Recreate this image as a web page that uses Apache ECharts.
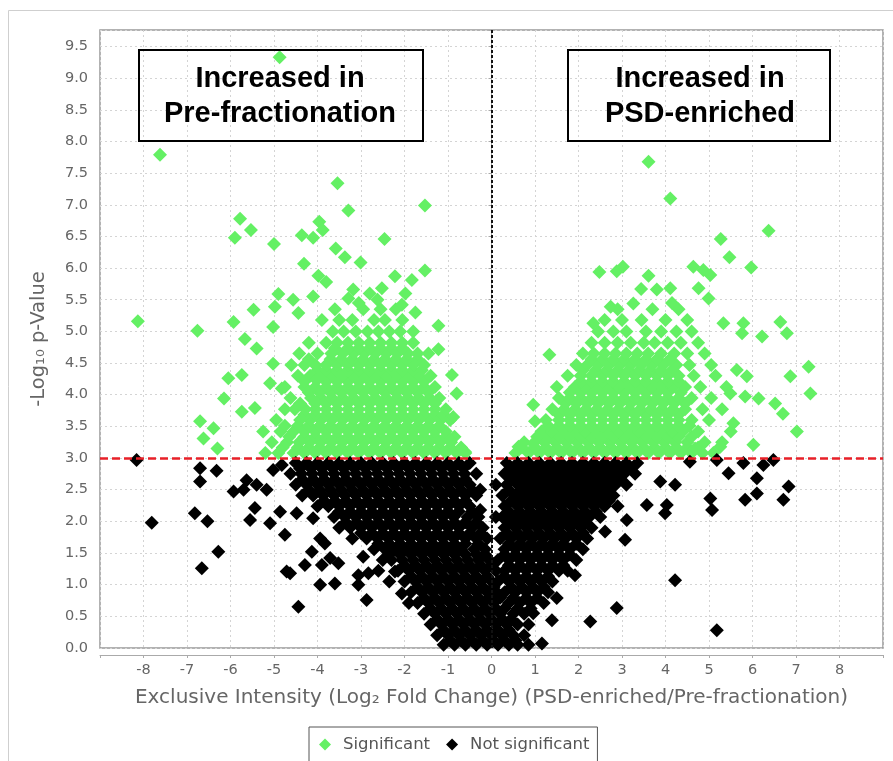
<!DOCTYPE html>
<html>
<head>
<meta charset="utf-8">
<script src="https://cdn.jsdelivr.net/npm/echarts@6/dist/echarts.min.js"></script>
<style>
html,body{margin:0;padding:0;background:#fff}
#chart{width:893px;height:761px}
</style>
</head>
<body>
<div id="chart"></div>
<script>
// x = log2 fold change, y = -log10 p
const sigLeftOutliers = [
  [-4.87,9.33],[-7.62,7.79],[-8.13,5.16],[-3.54,7.34],[-3.29,6.91],[-1.53,6.99],
  [-5.78,6.78],[-5.53,6.60],[-5.90,6.48],[-5.00,6.38],[-4.36,6.52],[-4.10,6.48],
  [-3.96,6.73],[-3.88,6.60],[-2.46,6.46],[-3.58,6.31],[-3.37,6.17],[-3.01,6.09],
  [-4.31,6.07],[-3.98,5.88],[-3.80,5.78],[-1.53,5.96],[-2.22,5.87],[-1.83,5.81],
  [-2.52,5.68],[-3.18,5.66],[-3.29,5.52],[-2.06,5.42],[-4.90,5.59],[-4.56,5.50],
  [-4.10,5.55],[-5.47,5.34],[-4.98,5.39],[-4.44,5.29],[-5.93,5.15],[-6.76,5.01],
  [-1.22,5.09],[-1.22,4.72],[-5.67,4.88],[-5.40,4.73],[-6.05,4.26],[-5.74,4.31],
  [-6.15,3.94],[-5.74,3.73],[-5.44,3.79],[-6.70,3.58],[-6.39,3.47],[-6.62,3.31],
  [-6.30,3.15],[-0.91,4.31],[-0.80,4.02],[-0.88,3.65],[-0.95,3.29],[-0.61,3.10],
  [-4.02,4.23],[-5.02,4.49],[-5.02,5.07],[-5.09,4.18],[-4.82,4.10],[-2.80,5.60],
  [-2.62,5.50],[-3.05,5.45],[-1.75,5.30],[-1.98,5.60]
];
const sigLeftRows = [
  [3.08,[-5.2,-4.9,-4.55,-4.3,-4.05,-3.8,-3.55,-3.3,-3.05,-2.8,-2.55,-2.3,-2.05,-1.8,-1.55,-1.3,-1.05,-0.8,-0.6]],
  [3.165,[-4.8,-4.45,-4.2,-3.95,-3.7,-3.45,-3.2,-2.95,-2.7,-2.45,-2.2,-1.95,-1.7,-1.45,-1.2,-0.95,-0.7]],
  [3.25,[-5.05,-4.7,-4.42,-4.18,-3.93,-3.68,-3.43,-3.18,-2.93,-2.68,-2.43,-2.18,-1.93,-1.68,-1.43,-1.18,-0.93]],
  [3.335,[-4.65,-4.3,-4.05,-3.8,-3.55,-3.3,-3.05,-2.8,-2.55,-2.3,-2.05,-1.8,-1.55,-1.3,-1.05,-0.85]],
  [3.42,[-5.25,-4.85,-4.55,-4.3,-4.05,-3.8,-3.55,-3.3,-3.05,-2.8,-2.55,-2.3,-2.05,-1.8,-1.55,-1.3,-1.05]],
  [3.51,[-4.75,-4.45,-4.2,-3.95,-3.7,-3.45,-3.2,-2.95,-2.7,-2.45,-2.2,-1.95,-1.7,-1.45,-1.2]],
  [3.60,[-4.95,-4.4,-4.17,-3.92,-3.67,-3.42,-3.17,-2.92,-2.67,-2.42,-2.17,-1.92,-1.67,-1.42,-1.17,-0.95]],
  [3.685,[-4.3,-4.05,-3.8,-3.55,-3.3,-3.05,-2.8,-2.55,-2.3,-2.05,-1.8,-1.55,-1.3,-1.1]],
  [3.77,[-4.75,-4.52,-4.28,-4.05,-3.8,-3.55,-3.3,-3.05,-2.8,-2.55,-2.3,-2.05,-1.8,-1.55,-1.3,-1.05]],
  [3.86,[-4.4,-4.05,-3.8,-3.55,-3.3,-3.05,-2.8,-2.55,-2.3,-2.05,-1.8,-1.55,-1.3]],
  [3.95,[-4.62,-4.15,-3.92,-3.67,-3.42,-3.17,-2.92,-2.67,-2.42,-2.17,-1.92,-1.67,-1.42,-1.2]],
  [4.035,[-4.2,-3.95,-3.7,-3.45,-3.2,-2.95,-2.7,-2.45,-2.2,-1.95,-1.7,-1.45]],
  [4.12,[-4.75,-4.3,-4.05,-3.8,-3.55,-3.3,-3.05,-2.8,-2.55,-2.3,-2.05,-1.8,-1.55,-1.3]],
  [4.21,[-4.3,-3.8,-3.55,-3.3,-3.05,-2.8,-2.55,-2.3,-2.05,-1.8,-1.55]],
  [4.30,[-4.45,-4.17,-3.92,-3.67,-3.42,-3.17,-2.92,-2.67,-2.42,-2.17,-1.92,-1.67,-1.4]],
  [4.385,[-4.0,-3.8,-3.55,-3.3,-3.05,-2.8,-2.55,-2.3,-2.05,-1.8,-1.6]],
  [4.47,[-4.6,-4.3,-4.05,-3.8,-3.55,-3.3,-3.05,-2.8,-2.55,-2.3,-2.05,-1.8,-1.55]],
  [4.56,[-4.2,-3.7,-3.45,-3.2,-2.95,-2.7,-2.45,-2.2,-1.95,-1.7]],
  [4.65,[-4.42,-4.0,-3.68,-3.42,-3.17,-2.92,-2.67,-2.42,-2.17,-1.92,-1.7,-1.45]],
  [4.735,[-3.6,-3.3,-3.05,-2.8,-2.55,-2.3,-2.05]],
  [4.82,[-4.2,-3.8,-3.55,-3.3,-3.05,-2.8,-2.55,-2.3,-2.05,-1.8]],
  [5.00,[-3.65,-3.4,-3.12,-2.85,-2.6,-2.35,-2.1,-1.8]],
  [5.18,[-3.9,-3.5,-3.2,-2.7,-2.45,-2.05]],
  [5.35,[-3.6,-2.95,-2.55,-2.2]]
];
const sigRightOutliers = [
  [3.61,7.68],[4.11,7.10],[6.37,6.59],[5.27,6.46],[5.47,6.17],[5.97,6.01],
  [2.48,5.94],[2.88,5.95],[3.02,6.02],[3.61,5.88],[4.64,6.02],[4.87,5.97],
  [5.03,5.89],[3.44,5.67],[3.80,5.66],[4.11,5.68],[4.76,5.68],[4.99,5.52],
  [2.74,5.39],[3.26,5.44],[5.33,5.13],[5.79,5.13],[5.76,4.97],[6.22,4.92],
  [6.64,5.15],[6.79,4.97],[2.34,5.13],[1.33,4.63],[7.29,4.44],[6.87,4.29],
  [7.33,4.02],[5.87,4.29],[5.83,3.97],[6.14,3.94],[6.52,3.86],[6.70,3.70],
  [7.02,3.42],[6.02,3.21],[0.62,3.18],[0.96,3.84],[1.00,3.58],[0.96,3.23],
  [4.68,3.15],[5.26,3.18],[5.56,3.55],[5.64,4.39],[5.49,4.02],[4.15,5.45]
];
const sigRightRows = [
  [3.08,[0.55,0.85,1.1,1.35,1.6,1.85,2.1,2.35,2.6,2.85,3.1,3.35,3.6,3.85,4.1,4.35,4.6,4.85,5.1]],
  [3.165,[0.7,1.0,1.25,1.5,1.75,2.0,2.25,2.5,2.75,3.0,3.25,3.5,3.75,4.0,4.25,4.5,4.75]],
  [3.25,[0.75,1.22,1.47,1.72,1.97,2.22,2.47,2.72,2.97,3.22,3.47,3.72,3.97,4.22,4.5,4.9,5.3]],
  [3.335,[1.05,1.3,1.55,1.8,2.05,2.3,2.55,2.8,3.05,3.3,3.55,3.8,4.05,4.3,4.6]],
  [3.42,[1.15,1.4,1.65,1.9,2.15,2.4,2.65,2.9,3.15,3.4,3.65,3.9,4.15,4.4,4.75,5.5]],
  [3.51,[1.3,1.55,1.8,2.05,2.3,2.55,2.8,3.05,3.3,3.55,3.8,4.05,4.3,4.55]],
  [3.60,[1.25,1.55,1.8,2.05,2.3,2.55,2.8,3.05,3.3,3.55,3.8,4.05,4.3,4.6,5.0]],
  [3.685,[1.55,1.8,2.05,2.3,2.55,2.8,3.05,3.3,3.55,3.8,4.05,4.3]],
  [3.77,[1.4,1.67,1.92,2.17,2.42,2.67,2.92,3.17,3.42,3.67,3.92,4.17,4.45,4.85,5.3]],
  [3.86,[1.7,1.95,2.2,2.45,2.7,2.95,3.2,3.45,3.7,3.95,4.2,4.45]],
  [3.95,[1.55,1.8,2.05,2.3,2.55,2.8,3.05,3.3,3.55,3.8,4.05,4.3,4.6,5.05]],
  [4.035,[1.8,2.05,2.3,2.55,2.8,3.05,3.3,3.55,3.8,4.05,4.35]],
  [4.12,[1.5,1.92,2.17,2.42,2.67,2.92,3.17,3.42,3.67,3.92,4.17,4.45,4.8,5.4]],
  [4.21,[2.05,2.3,2.55,2.8,3.05,3.3,3.55,3.8,4.05,4.3]],
  [4.30,[1.75,2.05,2.3,2.55,2.8,3.05,3.3,3.55,3.8,4.05,4.3,4.65,5.15]],
  [4.385,[2.1,2.4,2.65,2.9,3.15,3.4,3.65,3.9,4.15]],
  [4.47,[1.95,2.2,2.45,2.7,2.95,3.2,3.45,3.7,3.95,4.25,4.55,5.05]],
  [4.56,[2.3,2.55,2.8,3.05,3.3,3.55,3.8,4.1]],
  [4.65,[2.1,2.35,2.6,2.85,3.1,3.35,3.6,3.9,4.2,4.5,4.9]],
  [4.82,[2.3,2.6,2.9,3.2,3.5,3.75,4.05,4.35,4.75]],
  [5.00,[2.45,2.8,3.1,3.55,3.9,4.25,4.6]],
  [5.18,[2.6,3.0,3.45,4.0,4.5]],
  [5.35,[2.9,3.7,4.3]]
];
const nsLeftOutliers = [
  [-8.16,2.97],[-7.81,1.98],[-6.70,2.84],[-6.70,2.63],[-6.32,2.80],[-6.82,2.13],
  [-6.53,2.00],[-6.28,1.52],[-6.66,1.26],[-5.93,2.47],[-5.70,2.50],[-5.63,2.65],
  [-5.40,2.58],[-5.17,2.50],[-5.44,2.21],[-5.55,2.02],[-5.09,1.97],[-4.86,2.15],
  [-4.75,1.79],[-5.02,2.81],[-4.82,2.89],[-4.71,1.21],[-4.63,1.18],[-4.44,0.65],
  [-4.29,1.31],[-4.13,1.52],[-3.94,1.73],[-3.83,1.65],[-3.90,1.31],[-3.71,1.42],
  [-3.52,1.34],[-3.94,1.00],[-3.60,1.02],[-4.10,2.05],[-4.48,2.13],[-3.06,1.00],
  [-3.06,1.15],[-2.87,0.76],[-2.95,1.44],[-2.83,1.18],[-2.22,1.21],[-2.06,0.86],
  [-0.26,2.50],[-0.26,2.18]
];
const nsLeftRows = [
  [2.92,[-4.5,-4.25,-4.0,-3.75,-3.5,-3.25,-3.0,-2.75,-2.5,-2.25,-2.0,-1.75,-1.5,-1.25,-1.0,-0.75,-0.5]],
  [2.835,[-4.4,-4.15,-3.9,-3.65,-3.4,-3.15,-2.9,-2.65,-2.4,-2.15,-1.9,-1.65,-1.4,-1.15,-0.9,-0.65]],
  [2.75,[-4.62,-4.37,-4.12,-3.87,-3.62,-3.37,-3.12,-2.87,-2.62,-2.37,-2.12,-1.87,-1.62,-1.37,-1.12,-0.87,-0.62,-0.35]],
  [2.665,[-4.35,-4.1,-3.85,-3.6,-3.35,-3.1,-2.85,-2.6,-2.35,-2.1,-1.85,-1.6,-1.35,-1.1,-0.85,-0.6]],
  [2.58,[-4.5,-4.25,-4.0,-3.75,-3.5,-3.25,-3.0,-2.75,-2.5,-2.25,-2.0,-1.75,-1.5,-1.25,-1.0,-0.75,-0.5]],
  [2.495,[-4.2,-3.95,-3.7,-3.45,-3.2,-2.95,-2.7,-2.45,-2.2,-1.95,-1.7,-1.45,-1.2,-0.95,-0.7,-0.45]],
  [2.41,[-4.35,-4.1,-3.87,-3.62,-3.37,-3.12,-2.87,-2.62,-2.37,-2.12,-1.87,-1.62,-1.37,-1.12,-0.87,-0.6,-0.35]],
  [2.325,[-3.85,-3.6,-3.35,-3.1,-2.85,-2.6,-2.35,-2.1,-1.85,-1.6,-1.35,-1.1,-0.85,-0.6]],
  [2.24,[-4.0,-3.75,-3.5,-3.25,-3.0,-2.75,-2.5,-2.25,-2.0,-1.75,-1.5,-1.25,-1.0,-0.75,-0.5]],
  [2.155,[-3.5,-3.25,-3.0,-2.75,-2.5,-2.25,-2.0,-1.75,-1.5,-1.25,-1.0,-0.75,-0.45]],
  [2.07,[-3.62,-3.37,-3.12,-2.87,-2.62,-2.37,-2.12,-1.87,-1.62,-1.37,-1.12,-0.87,-0.55,-0.3]],
  [1.985,[-3.35,-3.1,-2.85,-2.6,-2.35,-2.1,-1.85,-1.6,-1.35,-1.1,-0.85,-0.6,-0.35]],
  [1.90,[-3.5,-3.25,-3.0,-2.75,-2.5,-2.25,-2.0,-1.75,-1.5,-1.25,-1.0,-0.75,-0.45,-0.2]],
  [1.815,[-3.0,-2.75,-2.5,-2.25,-2.0,-1.75,-1.5,-1.25,-1.0,-0.75,-0.5,-0.25]],
  [1.73,[-3.2,-2.87,-2.62,-2.37,-2.12,-1.87,-1.62,-1.37,-1.12,-0.87,-0.6,-0.35,-0.1]],
  [1.645,[-2.6,-2.35,-2.1,-1.85,-1.6,-1.35,-1.1,-0.85,-0.6,-0.3]],
  [1.56,[-2.7,-2.45,-2.2,-1.95,-1.7,-1.45,-1.2,-0.95,-0.7,-0.4,-0.15]],
  [1.475,[-2.35,-2.1,-1.85,-1.6,-1.35,-1.1,-0.85,-0.6,-0.35,-0.15]],
  [1.39,[-2.5,-2.3,-2.05,-1.8,-1.55,-1.3,-1.05,-0.8,-0.55,-0.3,-0.05]],
  [1.305,[-2.0,-1.75,-1.5,-1.25,-1.0,-0.75,-0.5,-0.25,0.0]],
  [1.22,[-2.6,-2.15,-1.9,-1.65,-1.4,-1.15,-0.9,-0.65,-0.4,-0.15,0.1]],
  [1.135,[-1.85,-1.6,-1.35,-1.1,-0.85,-0.6,-0.35,-0.1]],
  [1.05,[-2.35,-2.0,-1.75,-1.5,-1.25,-1.0,-0.75,-0.5,-0.25,0.0]],
  [0.965,[-1.7,-1.45,-1.2,-0.95,-0.7,-0.45,-0.2,0.05]],
  [0.88,[-1.85,-1.6,-1.35,-1.1,-0.85,-0.6,-0.35,-0.1,0.12]],
  [0.795,[-1.55,-1.3,-1.05,-0.8,-0.55,-0.3,-0.05,0.2]],
  [0.71,[-1.9,-1.7,-1.45,-1.2,-0.95,-0.7,-0.45,-0.2,0.05]],
  [0.625,[-1.4,-1.15,-0.9,-0.65,-0.4,-0.15,0.1,0.3]],
  [0.54,[-1.55,-1.3,-1.05,-0.8,-0.55,-0.3,-0.05,0.2]],
  [0.455,[-1.25,-1.0,-0.75,-0.5,-0.25,0.0,0.25,0.45]],
  [0.37,[-1.4,-1.15,-0.9,-0.65,-0.4,-0.15,0.1,0.35]],
  [0.285,[-1.1,-0.85,-0.6,-0.35,-0.1,0.15,0.4]],
  [0.20,[-1.25,-1.0,-0.75,-0.5,-0.25,0.0,0.25,0.5]],
  [0.12,[-0.95,-0.7,-0.45,-0.2,0.05,0.3,0.55]],
  [0.05,[-1.1,-0.85,-0.6,-0.35,-0.1,0.15,0.4,0.6]]
];
const nsRightOutliers = [
  [4.56,2.94],[5.18,2.97],[5.45,2.76],[5.79,2.92],[6.25,2.89],[6.48,2.97],
  [6.10,2.68],[6.83,2.55],[6.71,2.34],[6.10,2.44],[5.83,2.34],[5.03,2.36],
  [5.07,2.18],[3.88,2.63],[4.22,2.58],[3.57,2.26],[4.03,2.26],[3.99,2.13],
  [4.22,1.07],[5.18,0.28],[2.88,0.63],[2.27,0.42],[3.07,1.71],[1.16,0.07],
  [1.92,1.15],[1.50,0.79],[1.39,0.44],[0.96,0.55],[3.11,2.02],[2.61,1.84]
];
const nsRightRows = [
  [2.92,[0.35,0.6,0.85,1.1,1.35,1.6,1.85,2.1,2.35,2.6,2.85,3.1,3.35]],
  [2.835,[0.45,0.7,0.95,1.2,1.45,1.7,1.95,2.2,2.45,2.7,2.95,3.2]],
  [2.75,[0.3,0.55,0.8,1.05,1.3,1.55,1.8,2.05,2.3,2.55,2.8,3.05,3.3]],
  [2.665,[0.45,0.7,0.95,1.2,1.45,1.7,1.95,2.2,2.45,2.7,2.95]],
  [2.58,[0.1,0.35,0.6,0.85,1.1,1.35,1.6,1.85,2.1,2.35,2.6,2.85,3.1]],
  [2.495,[0.4,0.7,0.95,1.2,1.45,1.7,1.95,2.2,2.45,2.7]],
  [2.41,[0.25,0.55,0.8,1.05,1.3,1.55,1.8,2.05,2.3,2.55,2.8]],
  [2.325,[0.45,0.7,0.95,1.2,1.45,1.7,1.95,2.2,2.45,2.7]],
  [2.24,[0.3,0.6,0.85,1.1,1.35,1.6,1.85,2.1,2.35,2.6,2.9]],
  [2.155,[0.4,0.65,0.9,1.15,1.4,1.65,1.9,2.15,2.4]],
  [2.07,[0.1,0.25,0.5,0.75,1.0,1.25,1.5,1.75,2.0,2.25,2.5]],
  [1.985,[0.4,0.65,0.9,1.15,1.4,1.65,1.9,2.15]],
  [1.90,[0.3,0.55,0.8,1.05,1.3,1.55,1.8,2.05,2.3]],
  [1.815,[0.35,0.6,0.85,1.1,1.35,1.6,1.85,2.1]],
  [1.73,[0.2,0.45,0.7,0.95,1.2,1.45,1.7,1.95,2.2]],
  [1.645,[0.4,0.65,0.9,1.15,1.4,1.65,1.95]],
  [1.56,[0.3,0.55,0.8,1.05,1.3,1.55,1.8,2.1]],
  [1.475,[0.3,0.55,0.8,1.05,1.3,1.55,1.8]],
  [1.39,[0.15,0.4,0.65,0.9,1.15,1.4,1.65,1.95]],
  [1.305,[0.4,0.65,0.9,1.15,1.4,1.65]],
  [1.22,[0.3,0.55,0.8,1.05,1.3,1.55,1.75]],
  [1.135,[0.3,0.55,0.8,1.05,1.3]],
  [1.05,[0.15,0.4,0.65,0.9,1.15,1.4]],
  [0.965,[0.45,0.7,0.95,1.2]],
  [0.88,[0.3,0.55,0.8,1.05,1.3]],
  [0.795,[0.5,0.8,1.05]],
  [0.71,[0.4,0.65,0.9,1.2]],
  [0.625,[0.6,0.9]],
  [0.54,[0.5,0.75]],
  [0.37,[0.6,0.85]],
  [0.20,[0.75]],
  [0.05,[0.85]]
];
const pThreshold = 3;
const xTicks = [-8,-7,-6,-5,-4,-3,-2,-1,0,1,2,3,4,5,6,7,8];

function rowsToPoints(rows){
  const out=[]
  rows.forEach(r=>r[1].forEach(x=>out.push([x,r[0]])))
  return out
}

const significant = rowsToPoints(sigLeftRows).concat(sigLeftOutliers, rowsToPoints(sigRightRows), sigRightOutliers)
const notSignificant = rowsToPoints(nsLeftRows).concat(nsLeftOutliers, rowsToPoints(nsRightRows), nsRightOutliers)

const myChart=echarts.init(document.querySelector('#chart'))
const font='"DejaVu Sans", sans-serif'
const option = {
  animation:false,
  backgroundColor:'#fff',
  grid:{left:100,right:10,top:30,bottom:113,show:true,borderColor:'#999',borderWidth:1.5},
  legend:{
    data:['Significant','Not significant'],
    left:309, top:727,
    itemWidth:12, itemHeight:12, itemGap:16,
    padding:[9,8,14,10],
    borderColor:'#555', borderWidth:1,
    textStyle:{color:'#555',fontSize:16.5,fontFamily:font,padding:[0,0,0,7]}
  },
  xAxis:{
    type:'value', min:-9, max:9, interval:1, offset:7,
    name:'Exclusive Intensity (Log\u2082 Fold Change) (PSD-enriched/Pre-fractionation)',
    nameLocation:'middle', nameGap:33,
    nameTextStyle:{color:'#666',fontSize:20,fontFamily:font},
    axisLine:{show:true,onZero:false,lineStyle:{color:'#aaa'}},
    axisTick:{show:true,length:3,lineStyle:{color:'#aaa'}},
    axisLabel:{color:'#666',fontSize:14.5,fontFamily:font,margin:8,
      formatter:v=>xTicks.indexOf(v)>=0?String(v):''},
    splitLine:{show:true,lineStyle:{color:'#d4d4d4',type:[2,3]}}
  },
  yAxis:{
    type:'value', min:0, max:9.76, interval:0.5, offset:4,
    name:'-Log\u2081\u2080 p-Value',
    nameLocation:'middle', nameGap:47,
    nameTextStyle:{color:'#666',fontSize:19.5,fontFamily:font},
    axisLine:{show:true,lineStyle:{color:'#aaa'}},
    axisTick:{show:true,length:3,lineStyle:{color:'#aaa'}},
    axisLabel:{color:'#666',fontSize:14.5,fontFamily:font,margin:8,
      formatter:v=>v>9.6?'':v.toFixed(1)},
    splitLine:{show:true,lineStyle:{color:'#d4d4d4',type:[2,3]}}
  },
  graphic:[
    {type:'rect',shape:{x:8.5,y:10.5,width:900,height:800},style:{fill:'none',stroke:'#cfcfcf',lineWidth:1},z:0},
    {type:'rect',shape:{x:139,y:50,width:284,height:91},style:{fill:'none',stroke:'#000',lineWidth:2},z:100},
    {type:'text',x:280,y:96,style:{text:'Increased in\nPre-fractionation',font:'bold 29px "Liberation Sans", Arial, sans-serif',fill:'#000',align:'center',verticalAlign:'middle',lineHeight:35},z:100},
    {type:'rect',shape:{x:568,y:50,width:262,height:91},style:{fill:'none',stroke:'#000',lineWidth:2},z:100},
    {type:'text',x:700,y:96,style:{text:'Increased in\nPSD-enriched',font:'bold 29px "Liberation Sans", Arial, sans-serif',fill:'#000',align:'center',verticalAlign:'middle',lineHeight:35},z:100}
  ],
  series:[
    {
      name:'Significant', type:'scatter', symbol:'diamond', symbolSize:14,
      itemStyle:{color:'#64f064',opacity:1},
      data:significant
    },
    {
      name:'Not significant', type:'scatter', symbol:'diamond', symbolSize:14,
      itemStyle:{color:'#000',opacity:1},
      data:notSignificant
    },
    {
      name:'lines', type:'scatter', data:[], z:20,
      markLine:{
        silent:true, symbol:['none','none'], label:{show:false},
        data:[
          {yAxis:pThreshold,lineStyle:{color:'#e82028',width:2.5,type:[8,4]}},
          {xAxis:0,lineStyle:{color:'#111',width:2,type:[3,2]}}
        ]
      }
    }
  ]
}
myChart.setOption(option)
</script>
</body>
</html>
